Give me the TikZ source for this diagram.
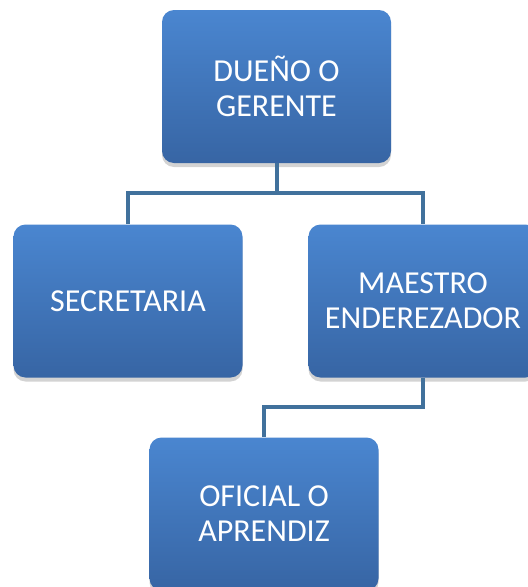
\documentclass[tikz,border=0pt]{standalone}
\usepackage{fontspec}
\newfontfamily\boxfont{Carlito}
\usepackage{tikz}
\usetikzlibrary{shadows}
\usetikzlibrary{calc}
\definecolor{boxtop}{RGB}{74,134,208}
\definecolor{boxbottom}{RGB}{55,101,164}
\definecolor{linkblue}{RGB}{65,113,156}
\tikzstyle{box}=[rectangle,rounded corners=12pt,minimum width=229pt,minimum height=153pt,inner sep=0pt,
  top color=boxtop,bottom color=boxbottom,draw=none,text=white,align=center,
  font=\boxfont\fontsize{32}{35}\selectfont,
  drop shadow={opacity=0.35,shadow xshift=0pt,shadow yshift=-4pt}]
\tikzstyle{link} = [draw,linkblue,line width=4pt]

\begin{document}
\begin{tikzpicture}[x=1pt,y=-1pt]

\clip (0,0) rectangle (528,587);
\useasboundingbox (0,0) rectangle (528,587);

    \foreach \pos/ \name/ \txt in {{(276.5,86.5)/due/{DUEÑO O\\GERENTE}},{(128,301)/sec/{SECRETARIA}},
        {(423,301)/mae/{MAESTRO\\ENDEREZADOR}}, {(264,514)/ofi/{OFICIAL O\\APRENDIZ}}}
        \node[box] (\name) at \pos {\txt};

    \coordinate (j1) at (276.5,193);
    \coordinate (j2) at (423,407);

    \path[link] (due.south) -- (j1);
    \foreach \dest in {sec, mae}
        \path[link] (j1) -| (\dest.north);

    \path[link] (mae.south) -- (j2) -| (ofi.north);

\end{tikzpicture}
\end{document}
